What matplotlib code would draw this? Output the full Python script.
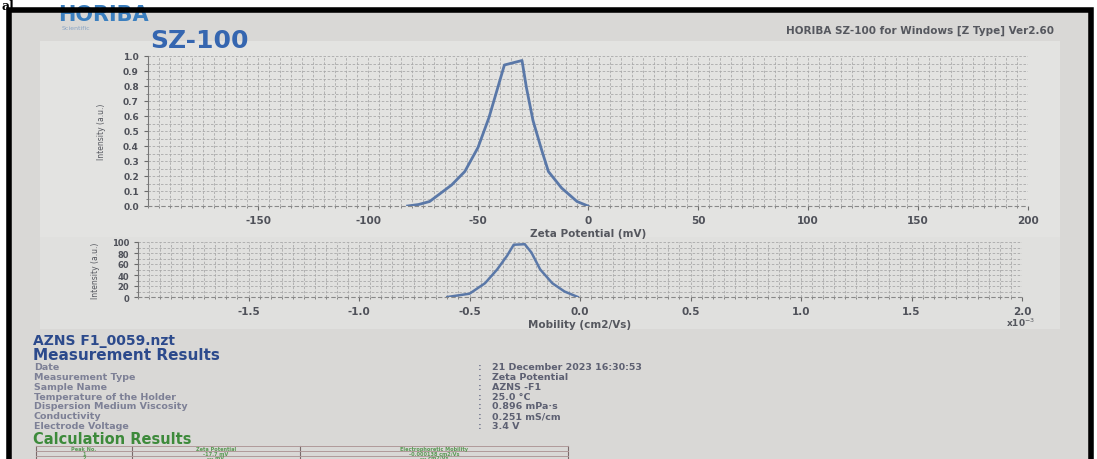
import matplotlib.pyplot as plt
from matplotlib.patches import Rectangle
from matplotlib.ticker import MultipleLocator, FixedLocator

# zeta potential distribution (top chart)
zeta_mv = [-82, -77, -72, -62, -56, -50, -45, -41, -38, -30, -28, -25, -21, -18, -12, -5, 0]
zeta_int = [0.0, 0.01, 0.03, 0.14, 0.23, 0.39, 0.59, 0.79, 0.94, 0.97, 0.79, 0.57, 0.37, 0.23, 0.12, 0.03, 0.0]
zeta_ticks = [-150, -100, -50, 0, 50, 100, 150, 200]

# mobility distribution (bottom chart, x1e-3 cm2/Vs)
mob = [-0.60, -0.50, -0.43, -0.375, -0.33, -0.30, -0.25, -0.22, -0.18, -0.125, -0.07, -0.01]
mob_int = [0, 6, 25, 50, 75, 95, 96, 81, 50, 25, 10, 0]
mob_ticks = [-1.5, -1.0, -0.5, 0.0, 0.5, 1.0, 1.5, 2.0]

info_names = ["Date", "Measurement Type", "Sample Name", "Temperature of the Holder",
              "Dispersion Medium Viscosity", "Conductivity", "Electrode Voltage"]
info_values = ["21 December 2023 16:30:53", "Zeta Potential", "AZNS -F1", "25.0 \u00b0C",
               "0.896 mPa\u00b7s", "0.251 mS/cm", "3.4 V"]
table_header = ["Peak No.", "Zeta Potential", "Electrophoretic Mobility"]
table_rows = [["1", "-17.7 mV", "-0.000138 cm2/Vs"], ["2", "--- mV", "--- cm2/Vs"]]

W, H = 1097, 460
fig = plt.figure(figsize=(W / 100, H / 100), dpi=100)
fig.patch.set_facecolor("white")


def fx(x):
    return x / W


def fy(y):
    return 1 - y / H


def ftext(x, y, s, **kw):
    fig.text(fx(x), fy(y), s, **kw)


def box(x0, y0, x1, y1, **kw):
    fig.patches.append(Rectangle((fx(x0), fy(y1)), fx(x1 - x0), (y1 - y0) / H,
                                 transform=fig.transFigure, **kw))


# page, chart panels, black frame
box(10, 12, 1090, 460, facecolor="#d9d8d6", edgecolor="none", zorder=-10)
box(40, 42, 1060, 238, facecolor="#e3e3e1", edgecolor="none", zorder=-9)
box(40, 238, 1060, 330, facecolor="#e0e0de", edgecolor="none", zorder=-9)
box(9, 11, 1091, 462, facecolor="none", edgecolor="black", linewidth=4, zorder=10)

ftext(1, 0, "al", fontsize=9, fontweight="bold", family="DejaVu Serif", va="top", color="black")

# header
ftext(58, 25, "HORIBA", fontsize=15, fontweight="bold", color="#3b7fbf", va="bottom")
ftext(62, 29, "Scientific", fontsize=4.5, color="#8aa4c4", va="center")
ftext(150, 41, "SZ-100", fontsize=18, fontweight="bold", color="#3566b0", va="center")
ftext(1054, 31, "HORIBA SZ-100 for Windows [Z Type] Ver2.60", fontsize=7.5, color="#55575e",
      ha="right", va="center", fontweight="bold")

tick_kw = dict(labelsize=7.5, labelcolor="#4f5159", colors="#6a6a6a", length=3, width=0.8)


def style_axes(ax):
    ax.set_facecolor("none")
    ax.grid(True, which="both", linestyle=(0, (3, 2)), color="#a9a9a9", linewidth=0.6)
    for side in ["top", "right"]:
        ax.spines[side].set_visible(False)
    ax.spines["left"].set_color("#777777")
    ax.spines["bottom"].set_color("#888888")
    ax.spines["bottom"].set_linestyle((0, (3, 3)))
    ax.tick_params(axis="both", which="major", **tick_kw)
    ax.tick_params(axis="both", which="minor", length=1.5, colors="#777777")
    for lab in ax.get_xticklabels() + ax.get_yticklabels():
        lab.set_fontweight("bold")


# top chart
ax1 = fig.add_axes([fx(148), fy(207), fx(1028 - 148), (207 - 57) / H])
ax1.plot(zeta_mv, zeta_int, color="#5a78a8", linewidth=2.0)
ax1.set_xlim(-200, 200)
ax1.set_ylim(0, 1.0)
ax1.xaxis.set_major_locator(FixedLocator(zeta_ticks))
ax1.xaxis.set_minor_locator(MultipleLocator(5))
ax1.yaxis.set_major_locator(MultipleLocator(0.1))
ax1.yaxis.set_minor_locator(MultipleLocator(0.05))
ax1.set_yticklabels([f"{v:.1f}" for v in ax1.get_yticks()])
ax1.set_xticklabels([str(v) for v in zeta_ticks])
style_axes(ax1)
ax1.tick_params(axis="y", labelsize=6.5)
ax1.set_xlabel("Zeta Potential (mV)", fontsize=7.5, color="#55575e", fontweight="bold", labelpad=2)
ax1.set_ylabel("Intensity (a.u.)", fontsize=5.5, color="#55575e", labelpad=12)

# bottom chart
ax2 = fig.add_axes([fx(138), fy(298), fx(1022 - 138), (298 - 243) / H])
ax2.plot(mob, mob_int, color="#5a78a8", linewidth=1.8)
ax2.set_xlim(-2.0, 2.0)
ax2.set_ylim(0, 100)
ax2.xaxis.set_major_locator(FixedLocator(mob_ticks))
ax2.xaxis.set_minor_locator(MultipleLocator(0.05))
ax2.yaxis.set_major_locator(MultipleLocator(20))
ax2.yaxis.set_minor_locator(MultipleLocator(10))
ax2.set_xticklabels([f"{v:.1f}" for v in mob_ticks])
style_axes(ax2)
ax2.tick_params(axis="y", labelsize=6)
ax2.set_xlabel("Mobility (cm2/Vs)", fontsize=7.5, color="#55575e", fontweight="bold", labelpad=2)
ax2.set_ylabel("Intensity (a.u.)", fontsize=5.5, color="#55575e", labelpad=8)
ftext(1006, 323, "x10$^{-3}$", fontsize=6.5, color="#55575e", fontweight="bold", va="center")

# measurement results
ftext(33, 341, "AZNS F1_0059.nzt", fontsize=10, fontweight="bold", color="#2c4a8c", va="center")
ftext(33, 356, "Measurement Results", fontsize=11, fontweight="bold", color="#2c4a8c", va="center")
for i, (name, val) in enumerate(zip(info_names, info_values)):
    y = 368 + i * 9.7
    ftext(34, y, name, fontsize=6.8, fontweight="bold", color="#7d8096", va="center")
    ftext(478, y, ":", fontsize=6.8, fontweight="bold", color="#7d8096", va="center")
    ftext(492, y, val, fontsize=6.8, fontweight="bold", color="#5d6072", va="center")

ftext(33, 440, "Calculation Results", fontsize=10.5, fontweight="bold", color="#3d8a3b", va="center")

# results table
col_x = [36, 132, 300, 568]
row_y = [447, 452, 456.5, 460]
for x in col_x:
    fig.add_artist(plt.Line2D([fx(x), fx(x)], [fy(row_y[0]), fy(row_y[-1])], color="#7a6a6a", linewidth=0.8))
for y in row_y:
    fig.add_artist(plt.Line2D([fx(col_x[0]), fx(col_x[-1])], [fy(y), fy(y)], color="#b09a9a", linewidth=0.7))
for r, row in enumerate([table_header] + table_rows):
    for c, cell in enumerate(row):
        cx = (col_x[c] + col_x[c + 1]) / 2
        cy = (row_y[r] + row_y[r + 1]) / 2
        ftext(cx, cy, cell, fontsize=3.6, fontweight="bold", color="#5a9a55", ha="center", va="center")

plt.savefig("out.png", dpi=100)
